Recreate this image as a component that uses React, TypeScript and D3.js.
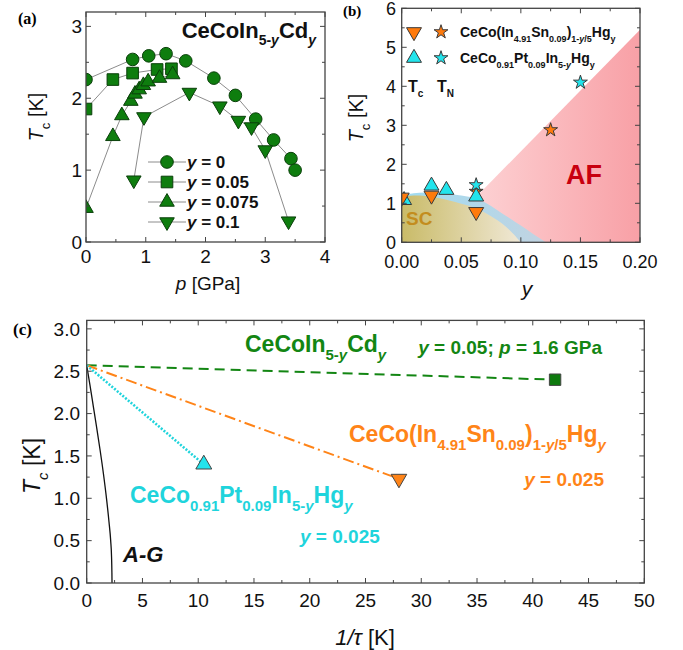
import React from 'react';
import * as d3 from 'd3';

const FONT = 'Liberation Sans, Arial, sans-serif';
const SERIF = 'Liberation Serif, Times New Roman, serif';

// ---- panel (a): CeCoIn5-yCdy, Tc vs pressure
const pY0 = [0, 0.78, 1.05, 1.34, 1.67, 2.14, 2.5, 2.84, 3.14, 3.43, 3.5];
const tcY0 = [2.26, 2.54, 2.59, 2.62, 2.52, 2.28, 2.04, 1.71, 1.42, 1.16, 1.0];
const pY005 = [0, 0.45, 0.78, 1.19, 1.43];
const tcY005 = [1.85, 2.26, 2.35, 2.4, 2.41];
const pY0075 = [0, 0.45, 0.6, 0.75, 0.82, 0.89, 0.96, 1.04, 1.23, 1.45];
const tcY0075 = [0.47, 1.47, 1.76, 1.96, 2.06, 2.12, 2.18, 2.23, 2.28, 2.33];
const pY01 = [0.8, 0.97, 1.73, 2.24, 2.55, 2.77, 3.0, 3.39];
const tcY01 = [0.86, 1.74, 2.08, 1.89, 1.69, 1.6, 1.28, 0.29];
const legendA = ['0', '0.05', '0.075', '0.1'];

// ---- panel (b): phase diagram vs y
const snTcY = [0, 0.025, 0.0625];
const snTcT = [1.15, 1.2, 0.78];
const snTnY = [0.0625, 0.125];
const snTnT = [1.3, 2.88];
const ptTcY = [0.002, 0.025, 0.0375, 0.0625];
const ptTcT = [1.08, 1.45, 1.34, 1.17];
const ptTnY = [0.0625, 0.15];
const ptTnT = [1.47, 4.1];
// shaded region boundaries
const scDomeY = [0, 0.01, 0.02, 0.03, 0.04, 0.05, 0.06, 0.07, 0.08, 0.09, 0.1];
const scDomeT = [1.15, 1.2, 1.19, 1.14, 1.07, 0.99, 0.9, 0.76, 0.57, 0.33, 0];
const blueDomeY = [0, 0.01, 0.02, 0.03, 0.04, 0.05, 0.06, 0.07, 0.08, 0.09, 0.1, 0.11, 0.121];
const blueDomeT = [1.2, 1.26, 1.28, 1.27, 1.24, 1.2, 1.14, 1.02, 0.83, 0.63, 0.43, 0.22, 0];
const afLineY = [0.062, 0.2];
const afLineT = [1.15, 5.45];

// ---- panel (c): Tc vs 1/tau
const tc0 = 2.57;
const cdInvTau = 42, cdTc = 2.4;
const snInvTau = 28, snTc = 1.23;
const ptInvTau = 10.5, ptTc = 1.4;
const agInvTau = [0, 0.3, 0.6, 0.9, 1.2, 1.5, 1.8, 2.0, 2.15, 2.23, 2.26, 2.27];
const agTc = [2.57, 2.33, 2.08, 1.83, 1.57, 1.29, 0.97, 0.72, 0.5, 0.3, 0.12, 0];

const GREEN = '#138613';
const ORANGE = '#ff8418';
const CYAN = '#1fd4dc';

type Seg = { t: string; sub?: boolean; it?: boolean };

function Rich(props: { x: number; y: number; segs: Seg[]; fs: number; subFs: number; fill: string; weight?: string; anchor?: string }) {
  const { x, y, segs, fs, subFs, fill, weight = 'bold', anchor = 'start' } = props;
  let cur = 0;
  return (
    <text x={x} y={y} fontSize={fs} fill={fill} fontWeight={weight} textAnchor={anchor} fontFamily={FONT}>
      {segs.map((s, i) => {
        const target = s.sub ? fs * 0.33 : 0;
        const dy = target - cur;
        cur = target;
        return (
          <tspan key={i} dy={dy} fontSize={s.sub ? subFs : fs} fontStyle={s.it ? 'italic' : 'normal'}>
            {s.t}
          </tspan>
        );
      })}
    </text>
  );
}

function sym(type: d3.SymbolType, size: number) {
  return d3.symbol().type(type).size(size)() as string;
}

function Marker(props: { x: number; y: number; type: d3.SymbolType; size: number; fill: string; stroke: string; down?: boolean }) {
  const { x, y, type, size, fill, stroke, down } = props;
  return (
    <path d={sym(type, size)} transform={`translate(${x},${y})${down ? ' rotate(180)' : ''}`} fill={fill} stroke={stroke} strokeWidth={1} />
  );
}

function Frame(props: {
  x: d3.ScaleLinear<number, number>; y: d3.ScaleLinear<number, number>;
  xMajor: number[]; xMinor: number[]; yMajor: number[]; yMinor: number[];
  xFmt: (v: number) => string; yFmt: (v: number) => string; fs: number; xLabY: number; yLabX: number;
}) {
  const { x, y, xMajor, xMinor, yMajor, yMinor, xFmt, yFmt, fs, xLabY, yLabX } = props;
  const [l, r] = x.range();
  const [b, t] = y.range();
  const c = '#444';
  const ticks: JSX.Element[] = [];
  xMinor.forEach((v, i) => {
    const len = xMajor.some(m => Math.abs(m - v) < 1e-9) ? 5 : 3;
    ticks.push(<line key={'xb' + i} x1={x(v)} x2={x(v)} y1={b} y2={b - len} stroke={c} />);
    ticks.push(<line key={'xt' + i} x1={x(v)} x2={x(v)} y1={t} y2={t + len} stroke={c} />);
  });
  yMinor.forEach((v, i) => {
    const len = yMajor.some(m => Math.abs(m - v) < 1e-9) ? 5 : 3;
    ticks.push(<line key={'yl' + i} x1={l} x2={l + len} y1={y(v)} y2={y(v)} stroke={c} />);
    ticks.push(<line key={'yr' + i} x1={r} x2={r - len} y1={y(v)} y2={y(v)} stroke={c} />);
  });
  return (
    <g>
      <rect x={l} y={t} width={r - l} height={b - t} fill="none" stroke={c} strokeWidth={1.3} />
      {ticks}
      {xMajor.map(v => (
        <text key={'xl' + v} x={x(v)} y={xLabY} fontSize={fs} textAnchor="middle" fontFamily={FONT} fill="#111">{xFmt(v)}</text>
      ))}
      {yMajor.map(v => (
        <text key={'yl' + v} x={yLabX} y={y(v)} dy="0.36em" fontSize={fs} textAnchor="end" fontFamily={FONT} fill="#111">{yFmt(v)}</text>
      ))}
    </g>
  );
}

const zip = (a: number[], b: number[]) => a.map((v, i) => [v, b[i]] as [number, number]);

function PanelA() {
  const x = d3.scaleLinear().domain([0, 4]).range([86, 325]);
  const y = d3.scaleLinear().domain([0, 3.2]).range([242, 12]);
  const line = d3.line<[number, number]>().x(d => x(d[0])).y(d => y(d[1]));
  const fill = '#0e7d0e', stroke = '#0a3f0a';
  const series = [
    { p: pY0, t: tcY0, type: d3.symbolCircle, size: 125, down: false },
    { p: pY005, t: tcY005, type: d3.symbolSquare, size: 135, down: false },
    { p: pY0075, t: tcY0075, type: d3.symbolTriangle, size: 92, down: false },
    { p: pY01, t: tcY01, type: d3.symbolTriangle, size: 92, down: true },
  ];
  return (
    <g>
      <defs>
        <clipPath id="clipA"><rect x={86} y={12} width={239} height={230} /></clipPath>
      </defs>
      <g clipPath="url(#clipA)">
        {series.map((s, i) => (
          <path key={i} d={line(zip(s.p, s.t)) as string} fill="none" stroke="#8c8c8c" strokeWidth={1} />
        ))}
        {series.map((s, i) => zip(s.p, s.t).map((d, j) => (
          <Marker key={i + '-' + j} x={x(d[0])} y={y(d[1])} type={s.type} size={s.size} fill={fill} stroke={stroke} down={s.down} />
        )))}
      </g>
      {series.map((s, i) => {
        const ly = 162 + i * 20;
        return (
          <g key={'lg' + i}>
            <line x1={148} x2={186} y1={ly} y2={ly} stroke="#8c8c8c" />
            <Marker x={167} y={ly} type={s.type} size={s.size} fill={fill} stroke={stroke} down={s.down} />
            <text x={187} y={ly} dy="0.36em" fontSize={17} fontWeight="bold" fontFamily={FONT} fill="#111">
              <tspan fontStyle="italic">y</tspan> = {legendA[i]}
            </text>
          </g>
        );
      })}
      <Frame x={x} y={y} xMajor={[0, 1, 2, 3, 4]} xMinor={d3.range(0, 4.01, 0.5)} yMajor={[0, 1, 2, 3]} yMinor={d3.range(0, 3.21, 0.5)}
        xFmt={v => String(v)} yFmt={v => String(v)} fs={19} xLabY={263} yLabX={82} />
      <Rich x={316} y={38} fs={22} subFs={14} fill="#111" anchor="end"
        segs={[{ t: 'CeCoIn' }, { t: '5-', sub: true }, { t: 'y', sub: true, it: true }, { t: 'Cd' }, { t: 'y', sub: true, it: true }]} />
      <text x={208} y={290} fontSize={19} textAnchor="middle" fontFamily={FONT} fill="#111">
        <tspan fontStyle="italic">p</tspan> [GPa]
      </text>
      <g transform="translate(43,117) rotate(-90)">
        <Rich x={0} y={0} fs={20} subFs={13} fill="#111" weight="normal" anchor="middle"
          segs={[{ t: 'T', it: true }, { t: 'c', sub: true }, { t: ' [K]' }]} />
      </g>
      <text x={18} y={24} fontSize={16} fontWeight="bold" fontFamily={SERIF}>(a)</text>
    </g>
  );
}

function PanelB() {
  const x = d3.scaleLinear().domain([0, 0.2]).range([401.7, 640]);
  const y = d3.scaleLinear().domain([0, 6]).range([242.3, 8.3]);
  const area = d3.area<[number, number]>().x(d => x(d[0])).y0(y(0)).y1(d => y(d[1])).curve(d3.curveMonotoneX);
  const afPts: [number, number][] = [...zip(afLineY, afLineT), [0.2, 0], [afLineY[0], 0]];
  const afPoly = d3.line<[number, number]>().x(d => x(d[0])).y(d => y(d[1]))(afPts) + 'Z';
  const orange = '#ff7a0c', cyan = '#22e4ec', st = '#3a3a3a';
  const tri = 97, star = 60;
  const legSn = [{ t: 'CeCo(In' }, { t: '4.91', sub: true }, { t: 'Sn' }, { t: '0.09', sub: true }, { t: ')' }, { t: '1-', sub: true }, { t: 'y', sub: true, it: true }, { t: '/5', sub: true }, { t: 'Hg' }, { t: 'y', sub: true }];
  const legPt = [{ t: 'CeCo' }, { t: '0.91', sub: true }, { t: 'Pt' }, { t: '0.09', sub: true }, { t: 'In' }, { t: '5-', sub: true }, { t: 'y', sub: true, it: true }, { t: 'Hg' }, { t: 'y', sub: true }];
  return (
    <g>
      <defs>
        <clipPath id="clipB"><rect x={401.7} y={8.3} width={238.3} height={234} /></clipPath>
        <linearGradient id="gAF" gradientUnits="userSpaceOnUse" x1={x(0.06)} x2={x(0.2)} y1={0} y2={0}>
          <stop offset="0" stopColor="#fdd2d4" />
          <stop offset="1" stopColor="#f8a0a6" />
        </linearGradient>
        <linearGradient id="gBlue" gradientUnits="userSpaceOnUse" x1={x(0)} x2={x(0.121)} y1={0} y2={0}>
          <stop offset="0" stopColor="#9fdcf2" />
          <stop offset="1" stopColor="#c2d3e1" />
        </linearGradient>
        <linearGradient id="gSC" gradientUnits="userSpaceOnUse" x1={x(0)} x2={x(0.1)} y1={0} y2={0}>
          <stop offset="0" stopColor="#c9bb68" />
          <stop offset="1" stopColor="#f0e8d6" />
        </linearGradient>
      </defs>
      <path d={afPoly} fill="url(#gAF)" />
      <path d={area(zip(blueDomeY, blueDomeT)) as string} fill="url(#gBlue)" />
      <path d={area(zip(scDomeY, scDomeT)) as string} fill="url(#gSC)" />
      <text x={406} y={225} fontSize={19} fontWeight="bold" fontFamily={FONT} fill="#c38d1e">SC</text>
      <text x={566} y={184} fontSize={27} fontWeight="bold" fontFamily={FONT} fill="#c8000f">AF</text>
      <g clipPath="url(#clipB)">
        {zip(snTnY, snTnT).map((d, i) => <Marker key={'sn' + i} x={x(d[0])} y={y(d[1])} type={d3.symbolStar} size={star} fill={orange} stroke={st} />)}
        {zip(ptTcY, ptTcT).map((d, i) => <Marker key={'pc' + i} x={x(d[0])} y={y(d[1])} type={d3.symbolTriangle} size={tri} fill={cyan} stroke={st} />)}
        {zip(snTcY, snTcT).map((d, i) => <Marker key={'sc' + i} x={x(d[0])} y={y(d[1])} type={d3.symbolTriangle} size={tri} fill={orange} stroke={st} down />)}
        {zip(ptTnY, ptTnT).map((d, i) => <Marker key={'pn' + i} x={x(d[0])} y={y(d[1])} type={d3.symbolStar} size={star} fill={cyan} stroke={st} />)}
      </g>
      <Marker x={414} y={32} type={d3.symbolTriangle} size={tri} fill={orange} stroke={st} down />
      <Marker x={441} y={32} type={d3.symbolStar} size={star} fill={orange} stroke={st} />
      <Marker x={414} y={58} type={d3.symbolTriangle} size={tri} fill={cyan} stroke={st} />
      <Marker x={441} y={58} type={d3.symbolStar} size={star} fill={cyan} stroke={st} />
      <Rich x={460} y={37} fs={14} subFs={9} fill="#111" segs={legSn} />
      <Rich x={460} y={63} fs={14} subFs={9} fill="#111" segs={legPt} />
      <Rich x={408} y={92} fs={16} subFs={10} fill="#111" segs={[{ t: 'T' }, { t: 'c', sub: true }]} />
      <Rich x={437} y={92} fs={16} subFs={10} fill="#111" segs={[{ t: 'T' }, { t: 'N', sub: true }]} />
      <Frame x={x} y={y} xMajor={[0, 0.05, 0.1, 0.15, 0.2]} xMinor={d3.range(0, 0.2001, 0.025)} yMajor={d3.range(0, 7)} yMinor={d3.range(0, 6.01, 0.5)}
        xFmt={v => v.toFixed(2)} yFmt={v => String(v)} fs={18} xLabY={268} yLabX={396} />
      <text x={527} y={296} fontSize={21} textAnchor="middle" fontStyle="italic" fontFamily={FONT} fill="#111">y</text>
      <g transform="translate(363,118) rotate(-90)">
        <Rich x={0} y={0} fs={20} subFs={13} fill="#111" weight="normal" anchor="middle"
          segs={[{ t: 'T', it: true }, { t: 'c', sub: true }, { t: ' [K]' }]} />
      </g>
      <text x={343} y={16} fontSize={15} fontWeight="bold" fontFamily={SERIF}>(b)</text>
    </g>
  );
}

function PanelC() {
  const x = d3.scaleLinear().domain([0, 50]).range([86.7, 644.3]);
  const y = d3.scaleLinear().domain([0, 3.1]).range([583, 320.4]);
  const line = d3.line<[number, number]>().x(d => x(d[0])).y(d => y(d[1]));
  const ag = d3.line<[number, number]>().x(d => x(d[0])).y(d => y(d[1])).curve(d3.curveMonotoneX);
  const st = '#444';
  return (
    <g>
      <path d={ag(zip(agInvTau, agTc)) as string} fill="none" stroke="#111" strokeWidth={1.3} />
      <path d={line([[0, tc0], [cdInvTau, cdTc]]) as string} fill="none" stroke={GREEN} strokeWidth={2} strokeDasharray="10,6" />
      <path d={line([[0, tc0], [snInvTau, snTc]]) as string} fill="none" stroke={ORANGE} strokeWidth={2} strokeDasharray="11,4,2,4" />
      <path d={line([[0, tc0], [ptInvTau, ptTc]]) as string} fill="none" stroke={CYAN} strokeWidth={2.6} strokeDasharray="2,1.6" />
      <Marker x={x(cdInvTau)} y={y(cdTc)} type={d3.symbolSquare} size={130} fill="#0e7a0e" stroke={st} />
      <Marker x={x(snInvTau)} y={y(snTc)} type={d3.symbolTriangle} size={105} fill={ORANGE} stroke={st} down />
      <Marker x={x(ptInvTau)} y={y(ptTc)} type={d3.symbolTriangle} size={110} fill="#22e4ec" stroke={st} />
      <Frame x={x} y={y} xMajor={d3.range(0, 51, 5)} xMinor={d3.range(0, 50.01, 2.5)} yMajor={d3.range(0, 3.01, 0.5)} yMinor={d3.range(0, 3.1, 0.25)}
        xFmt={v => String(v)} yFmt={v => v.toFixed(1)} fs={19} xLabY={607} yLabX={80} />
      <Rich x={245} y={352} fs={23} subFs={15} fill={GREEN}
        segs={[{ t: 'CeCoIn' }, { t: '5-', sub: true }, { t: 'y', sub: true, it: true }, { t: 'Cd' }, { t: 'y', sub: true, it: true }]} />
      <text x={602} y={354} fontSize={19} fontWeight="bold" textAnchor="end" fontFamily={FONT} fill={GREEN}>
        <tspan fontStyle="italic">y</tspan> = 0.05; <tspan fontStyle="italic">p</tspan> = 1.6 GPa
      </text>
      <Rich x={349} y={442} fs={23} subFs={15} fill={ORANGE}
        segs={[{ t: 'CeCo(In' }, { t: '4.91', sub: true }, { t: 'Sn' }, { t: '0.09', sub: true }, { t: ')' }, { t: '1-', sub: true }, { t: 'y', sub: true, it: true }, { t: '/5', sub: true }, { t: 'Hg' }, { t: 'y', sub: true, it: true }]} />
      <text x={604} y={486} fontSize={19} fontWeight="bold" textAnchor="end" fontFamily={FONT} fill={ORANGE}>
        <tspan fontStyle="italic">y</tspan> = 0.025
      </text>
      <Rich x={130} y={503} fs={23} subFs={15} fill={CYAN}
        segs={[{ t: 'CeCo' }, { t: '0.91', sub: true }, { t: 'Pt' }, { t: '0.09', sub: true }, { t: 'In' }, { t: '5-', sub: true }, { t: 'y', sub: true, it: true }, { t: 'Hg' }, { t: 'y', sub: true, it: true }]} />
      <text x={300} y={543} fontSize={19} fontWeight="bold" fontFamily={FONT} fill={CYAN}>
        <tspan fontStyle="italic">y</tspan> = 0.025
      </text>
      <text x={123} y={562} fontSize={22} fontWeight="bold" fontStyle="italic" fontFamily={FONT} fill="#111">A-G</text>
      <text x={365} y={645} fontSize={22} textAnchor="middle" fontFamily={FONT} fill="#111">
        <tspan fontStyle="italic">1/τ</tspan> [K]
      </text>
      <g transform="translate(40,466) rotate(-90)">
        <Rich x={0} y={0} fs={23} subFs={15} fill="#111" weight="normal" anchor="middle"
          segs={[{ t: 'T', it: true }, { t: 'c', sub: true, it: true }, { t: ' [K]' }]} />
      </g>
      <text x={13} y={335} fontSize={17} fontWeight="bold" fontFamily={SERIF}>(c)</text>
    </g>
  );
}

export default function App() {
  return (
    <svg width={683} height={650} style={{ position: 'absolute', left: 0, top: 0, background: '#fff' }}>
      <rect width={683} height={650} fill="#fff" />
      <PanelA />
      <PanelB />
      <PanelC />
    </svg>
  );
}
